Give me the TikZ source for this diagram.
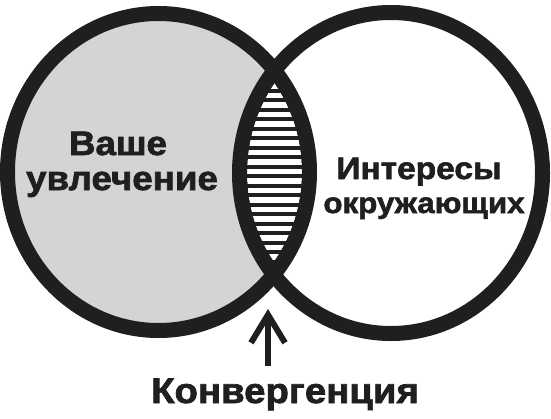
\documentclass[tikz,border=0pt]{standalone}
\usepackage{fontspec}
\setmainfont{Liberation Sans}[FakeStretch=1.08, FakeBold=2]
\usetikzlibrary{arrows.meta}

\begin{document}
\begin{tikzpicture}[x=1pt, y=-1pt,
    ring/.style={line width=15pt, draw=black!88},
    stripe/.style={white, line width=5.5pt},
    bigtext/.style={anchor=base, font=\bfseries\fontsize{34}{36}\selectfont, text=black!88, inner sep=0pt},
    smalltext/.style={anchor=base, font=\bfseries\fontsize{31}{34}\selectfont, text=black!88, inner sep=0pt},
    pointer/.style={line width=6pt, draw=black!88,
        -{Straight Barb[length=28pt, width=34pt]}}
]
    \useasboundingbox (0,0) rectangle (551,418);
    \fill[black!17] (158.5,172) ellipse [x radius=151pt, y radius=158.5pt];
    \begin{scope}
        \clip (158.5,172) ellipse [x radius=151pt, y radius=158.5pt];
        \fill[black!88] (391,173) ellipse [x radius=151.5pt, y radius=160.5pt];
    \end{scope}
    \begin{scope}
        \clip (158.5,172) ellipse [x radius=143.5pt, y radius=151pt];
        \clip (391,173) ellipse [x radius=144pt, y radius=153pt];
        \foreach \y in {86,95.5,...,264}
            \draw[stripe] (220,\y) -- (330,\y);
    \end{scope}
    \draw[ring] (158.5,172) ellipse [x radius=151pt, y radius=158.5pt];
    \draw[ring] (391,173) ellipse [x radius=151.5pt, y radius=160.5pt];

    \node[bigtext] (passion1) at (118,155) {Ваше};
    \node[bigtext] (passion2) at (122,190) {увлечение};
    \node[smalltext] (others1) at (419,179) {Интересы};
    \node[smalltext, font=\bfseries\fontsize{29}{34}\selectfont] (others2) at (424,213) {окружающих};
    \node[bigtext, font=\bfseries\fontsize{35.5}{38}\selectfont] (conv) at (285,403) {Конвергенция};

    \coordinate (foot) at (268,366);
    \coordinate (tip) at (268,309);
    \draw[pointer] (foot) -- (tip);
\end{tikzpicture}
\end{document}
